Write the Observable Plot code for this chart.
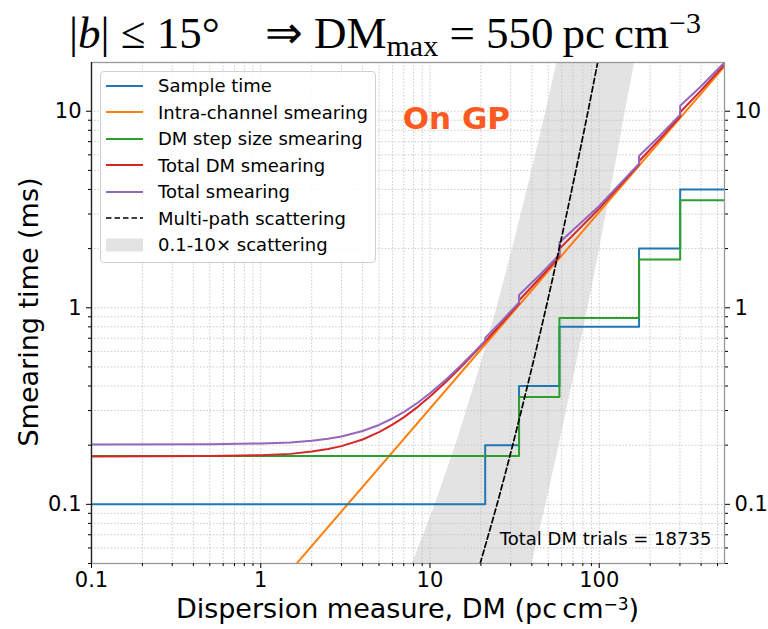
<!DOCTYPE html>
<html>
<head>
<meta charset="utf-8">
<script src="https://cdn.jsdelivr.net/npm/d3@7"></script>
<script src="https://cdn.jsdelivr.net/npm/@observablehq/plot@0.6"></script>
<style>
  body { margin: 0; background: white; }
  #wrap { position: relative; width: 768px; height: 629px; font-family: "DejaVu Sans", sans-serif; }
  #title { position: absolute; left: 0; width: 770px; top: 7px; text-align: center; font-family: "Liberation Serif", serif; font-size: 45px; line-height: 52px; color: #000; white-space: nowrap; }
  #title sub { font-size: 30px; vertical-align: -8px; line-height: 0; }
  #title sup { font-size: 30px; vertical-align: 15px; line-height: 0; }
  #xlabel { position: absolute; left: 91px; width: 633px; top: 596px; text-align: center; font-size: 27px; line-height: 26px; white-space: nowrap; }
  #xlabel sup { font-size: 17px; vertical-align: 8px; line-height: 0; }
  #ylabel { position: absolute; left: 28px; top: 312px; transform: translate(-50%, -50%) rotate(-90deg); font-size: 27px; white-space: nowrap; }
  #legend { position: absolute; left: 100px; top: 71px; width: 274px; height: 190px; border: 1px solid #d0d0d0; border-radius: 4px; background: rgba(255,255,255,0.85); box-sizing: content-box; }
  .row { position: absolute; left: 5px; height: 26px; display: flex; align-items: center; font-size: 18px; white-space: nowrap; }
  .row svg { margin-right: 15px; }
</style>
</head>
<body>
<div id="wrap">
  <div id="plot" style="position:absolute;left:0;top:0;"></div>
  <div id="title">|<i>b</i>| ≤ 15°&nbsp;&nbsp;&nbsp; ⇒ DM<sub>max</sub> = 550&#8201;pc&#8201;cm<sup>−3</sup></div>
  <div id="xlabel">Dispersion measure, DM (pc&#8201;cm<sup>−3</sup>)</div>
  <div id="ylabel">Smearing time (ms)</div>
  <div id="legend"></div>
</div>
<script>
// ---- data ----
const sampleDM   = [0.1, 21.2, 33.6, 58.2, 172, 301, 550];
const sampleTime = [0.1, 0.2, 0.4, 0.8, 2.0, 4.0, 4.0];

const stepDM     = [0.1, 33.6, 58.2, 172, 301, 550];
const stepSmear  = [0.176, 0.352, 0.887, 1.76, 3.52, 3.52];

const intraDM    = [1.5, 550];
const intraSmear = [0.046, 16.9];

const totalDMx = [0.1, 0.5, 1, 1.5, 2, 2.5, 3, 4, 5, 6, 7, 8.5, 10, 12.5, 15, 18, 21, 27, 33.6, 33.6, 45, 58.2, 58.2, 100, 172, 172, 230, 301, 301, 400, 550];
const totalDMy = [0.175, 0.176, 0.1777, 0.1806, 0.1855, 0.1911, 0.1978, 0.2138, 0.2328, 0.2545, 0.2771, 0.3142, 0.3534, 0.4218, 0.4926, 0.5797, 0.668, 0.8472, 1.0462, 1.0899, 1.4256, 1.8211, 1.9948, 3.196, 5.354, 5.566, 7.277, 9.407, 9.888, 12.77, 17.25];

const totalX = [0.1, 0.5, 1, 1.5, 2, 2.5, 3, 4, 5, 6, 7, 8.5, 10, 12.5, 15, 18, 21.2, 21.2, 27, 33.6, 33.6, 45, 58.2, 58.2, 100, 172, 172, 230, 301, 301, 400, 550];
const totalY = [0.2016, 0.2024, 0.2039, 0.2064, 0.2107, 0.2157, 0.2216, 0.236, 0.2534, 0.2734, 0.2946, 0.3297, 0.3673, 0.4335, 0.5027, 0.5882, 0.6809, 0.703, 0.8705, 1.0652, 1.161, 1.4807, 1.8645, 2.1493, 3.294, 5.414, 5.914, 7.547, 9.617, 10.667, 13.39, 17.71];

const scatDM   = [19.8, 24.9, 30.8, 40.1, 48.5, 58.0, 72.8, 85.9, 97.9];
const scatTime = [0.05, 0.1, 0.2, 0.5, 1, 2, 5, 10, 17.7];

const bandTime = [0.05, 0.1, 0.2, 0.5, 1, 2, 5, 10, 17.7];
const bandLoDM = [7.88, 10.77, 14.2, 19.8, 24.9, 30.8, 40.1, 48.5, 56.3];
const bandHiDM = [40.1, 48.5, 58.0, 72.8, 85.9, 100.6, 123.2, 142.8, 162];

const xTickValues = [0.1, 1, 10, 100];
const xTickLabels = ["0.1", "1", "10", "100"];
const yTickValues = [0.1, 1, 10];
const yTickLabels = ["0.1", "1", "10"];
const xMinorTicks = [0.2,0.3,0.4,0.5,0.6,0.7,0.8,0.9, 2,3,4,5,6,7,8,9, 20,30,40,50,60,70,80,90, 200,300,400,500];
const yMinorTicks = [0.05,0.06,0.07,0.08,0.09, 0.2,0.3,0.4,0.5,0.6,0.7,0.8,0.9, 2,3,4,5,6,7,8,9];

const seriesNames = ["Sample time", "Intra-channel smearing", "DM step size smearing", "Total DM smearing", "Total smearing", "Multi-path scattering", "0.1-10× scattering"];
const annotation = {label: "On GP", x: 6.9, y: 9.1};
const trialsNote = {label: "Total DM trials = 18735", x: 460, y: 0.0664};

// ---- styles ----
const C = {blue: "#1f77b4", orange: "#ff7f0e", green: "#2ca02c", red: "#d62728", purple: "#9467bd"};
const pts = (xs, ys) => xs.map((x, i) => ({x, y: ys[i]}));
const lw = 2;
const gridStyle = {stroke: "#c4c4c4", strokeOpacity: 1, strokeDasharray: "1.5,1.8", strokeWidth: 0.9};

const chart = Plot.plot({
  width: 768, height: 629,
  marginLeft: 91, marginRight: 44, marginTop: 62, marginBottom: 66,
  x: {type: "log", domain: [0.1, 550]},
  y: {type: "log", domain: [0.05, 17.7]},
  style: {fontFamily: "DejaVu Sans", fontSize: "20px", background: "transparent", color: "#000"},
  marks: [
    Plot.areaX(bandTime.map((t, i) => ({y: t, x1: bandLoDM[i], x2: bandHiDM[i]})), {y: "y", x1: "x1", x2: "x2", fill: "#e3e3e3", clip: true}),
    Plot.gridX(xMinorTicks, gridStyle),
    Plot.gridX(xTickValues, gridStyle),
    Plot.gridY(yMinorTicks, gridStyle),
    Plot.gridY(yTickValues, gridStyle),
    Plot.line(pts(intraDM, intraSmear), {x: "x", y: "y", stroke: C.orange, strokeWidth: lw, clip: true}),
    Plot.line(pts(sampleDM, sampleTime), {x: "x", y: "y", curve: "step-after", stroke: C.blue, strokeWidth: lw, clip: true}),
    Plot.line(pts(stepDM, stepSmear), {x: "x", y: "y", curve: "step-after", stroke: C.green, strokeWidth: lw, clip: true}),
    Plot.line(pts(totalDMx, totalDMy), {x: "x", y: "y", stroke: C.red, strokeWidth: lw, clip: true}),
    Plot.line(pts(totalX, totalY), {x: "x", y: "y", stroke: C.purple, strokeWidth: lw, clip: true}),
    Plot.line(pts(scatDM, scatTime), {x: "x", y: "y", stroke: "#000", strokeWidth: 1.7, strokeDasharray: "5.5,3", curve: "catmull-rom", clip: true}),
    Plot.text([annotation], {x: "x", y: "y", text: "label", textAnchor: "start", fill: "#fc5a20", fontSize: 31, fontWeight: "bold", fontFamily: "DejaVu Sans"}),
    Plot.text([trialsNote], {x: "x", y: "y", text: "label", textAnchor: "end", fill: "#000", fontSize: 18}),
    Plot.frame({stroke: "#999", strokeWidth: 1.3}),
    Plot.ruleX([0.1], {stroke: "#222", strokeWidth: 1.3}),
    Plot.axisX(xTickValues, {tickFormat: d => xTickLabels[xTickValues.indexOf(d)], tickSize: 5, tickPadding: 4, fontSize: 21, label: null}),
    Plot.axisX(xMinorTicks, {tickFormat: () => "", tickSize: 3, label: null}),
    Plot.axisY(yTickValues, {anchor: "left", tickFormat: d => yTickLabels[yTickValues.indexOf(d)], tickSize: 5, tickPadding: 5, fontSize: 21, label: null}),
    Plot.axisY(yMinorTicks, {anchor: "left", tickFormat: () => "", tickSize: 3, label: null}),
    Plot.axisY(yTickValues, {anchor: "right", tickFormat: d => yTickLabels[yTickValues.indexOf(d)], tickSize: 5, tickPadding: 5, fontSize: 21, label: null}),
    Plot.axisY(yMinorTicks, {anchor: "right", tickFormat: () => "", tickSize: 3, label: null})
  ]
});
document.getElementById("plot").appendChild(chart);

// ---- legend (HTML) ----
const legendItems = [
  {name: seriesNames[0], color: C.blue, kind: "line"},
  {name: seriesNames[1], color: C.orange, kind: "line"},
  {name: seriesNames[2], color: C.green, kind: "line"},
  {name: seriesNames[3], color: C.red, kind: "line"},
  {name: seriesNames[4], color: C.purple, kind: "line"},
  {name: seriesNames[5], color: "#000", kind: "dash"},
  {name: seriesNames[6], color: "#e3e3e3", kind: "patch"}
];
const legend = document.getElementById("legend");
legendItems.forEach((it, i) => {
  const row = document.createElement("div");
  row.className = "row";
  row.style.top = (i * 26.5 + 0.5) + "px";
  let sw;
  if (it.kind === "line") sw = `<line x1="0" x2="37" y1="7" y2="7" stroke="${it.color}" stroke-width="2"/>`;
  else if (it.kind === "dash") sw = `<line x1="0" x2="37" y1="7" y2="7" stroke="#000" stroke-width="1.7" stroke-dasharray="5.5,3"/>`;
  else sw = `<rect x="0" y="0.5" width="37" height="13" fill="${it.color}"/>`;
  row.innerHTML = `<svg width="37" height="14">${sw}</svg><span>${it.name}</span>`;
  legend.appendChild(row);
});
</script>
</body>
</html>
